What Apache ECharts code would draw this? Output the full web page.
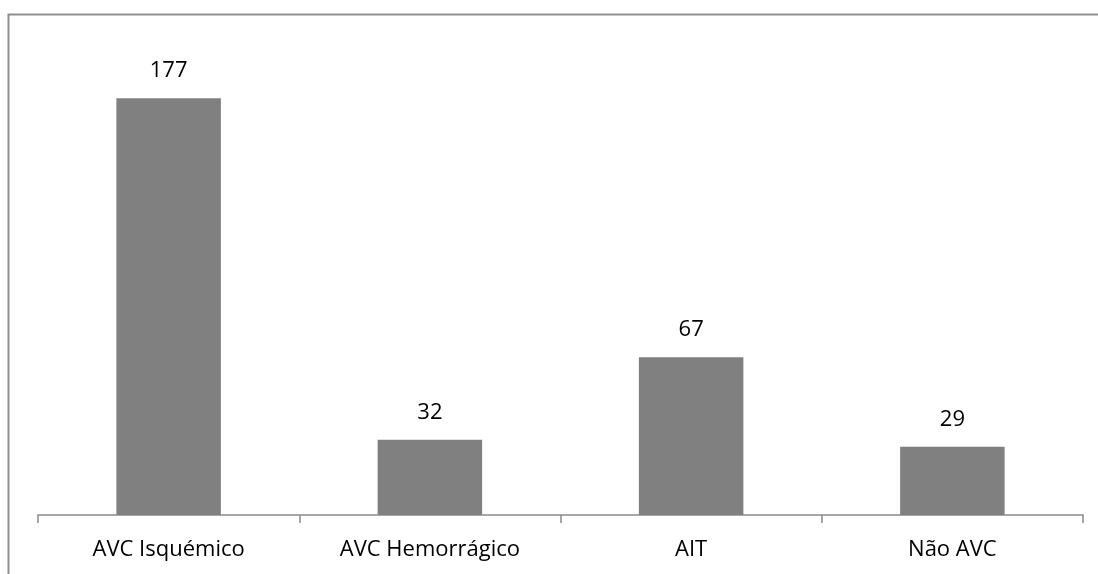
<!DOCTYPE html>
<html>
<head>
<meta charset="utf-8">
<script src="https://cdn.jsdelivr.net/npm/echarts@6/dist/echarts.min.js"></script>
<style>
html,body{margin:0;padding:0;background:#fff;}
#chart{width:1098px;height:574px;}
</style>
</head>
<body>
<div id="chart"></div>
<script>
const categories = ['AVC Isquémico', 'AVC Hemorrágico', 'AIT', 'Não AVC'];
const values = [177, 32, 67, 29];

const chart = echarts.init(document.getElementById('chart'), null, {renderer: 'canvas'});
chart.setOption({
  backgroundColor: '#ffffff',
  animation: false,
  graphic: [{
    type: 'rect',
    shape: {x: 8.5, y: 14.5, width: 1200, height: 700},
    style: {fill: 'none', stroke: '#8f8f8f', lineWidth: 2},
    silent: true
  }],
  grid: {left: 38, right: 15, top: 44, bottom: 59},
  xAxis: {
    type: 'category',
    data: categories,
    axisLine: {show: true, lineStyle: {color: '#8a8a8a', width: 1.5}},
    axisTick: {show: true, length: 8, alignWithLabel: false, lineStyle: {color: '#8a8a8a', width: 1.5}},
    axisLabel: {color: '#000', fontFamily: 'Open Sans', fontSize: 22, margin: 24}
  },
  yAxis: {
    type: 'value',
    min: 0, max: 200,
    show: false,
    splitLine: {show: false}
  },
  series: [{
    type: 'bar',
    data: values,
    barWidth: '40%',
    itemStyle: {color: '#808080'},
    label: {show: true, position: 'top', distance: 16, color: '#000', fontFamily: 'Open Sans', fontSize: 22}
  }]
});
</script>
</body>
</html>
